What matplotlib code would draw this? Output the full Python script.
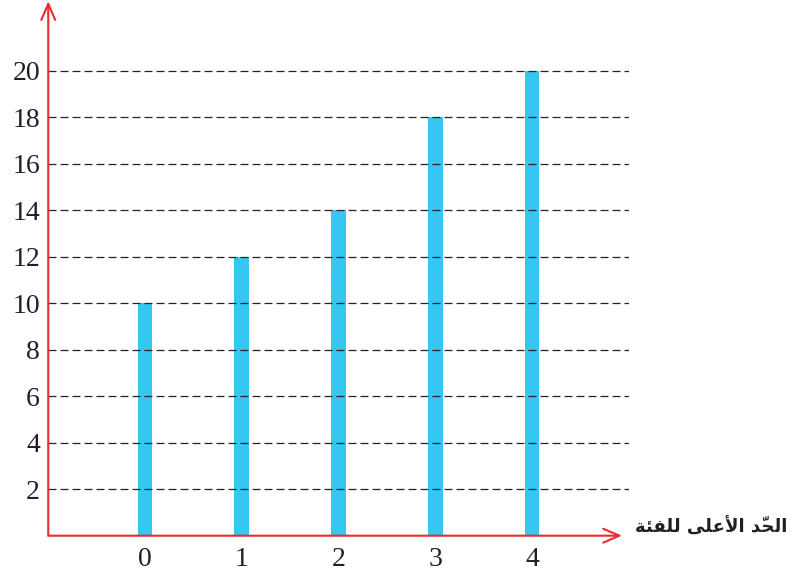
import matplotlib
matplotlib.use("Agg")
import matplotlib.pyplot as plt

# data
categories = [0, 1, 2, 3, 4]
upper_limits = [10, 12, 14, 18, 20]
y_ticks = [2, 4, 6, 8, 10, 12, 14, 16, 18, 20]

# "الحدّ الأعلى للفئة" written in shaped forms, visual order (left to right)
word3 = "\ufe94\ufe8c\ufed4\ufee0\ufedf"          # للفئة
word2 = "\ufef0\ufee0\ufecb\ufef7\ufe8d"          # الأعلى
word1 = "\ufeaa\u0651\ufea4\ufedf\ufe8d"          # الحدّ
x_label = word3 + " " + word2 + " " + word1

red = "#ee2a2e"
blue = "#35c6f1"

fig = plt.figure(figsize=(7.93, 5.72), dpi=100)
ax = fig.add_axes([48.25 / 793, 36.3 / 572, 580.5 / 793, 23 * 23.24 / 572])
ax.set_xlim(-1, 5)
ax.set_ylim(0, 23)

ax.bar(categories, upper_limits, width=0.155, color=blue, zorder=2)
ax.hlines(y_ticks, -1, 5, colors="#222222", linewidth=0.9,
          linestyles=(0, (6.4, 3.2)), zorder=3)

for s in ax.spines.values():
    s.set_visible(False)

# axes drawn as red arrows
ax.annotate("", xy=(4.93, 0), xytext=(-1, 0),
            arrowprops=dict(arrowstyle="->,head_length=0.58,head_width=0.25",
                            color=red, lw=1.5, mutation_scale=20,
                            shrinkA=0, shrinkB=0), zorder=4, annotation_clip=False)
ax.annotate("", xy=(-1, 23), xytext=(-1, 0),
            arrowprops=dict(arrowstyle="->,head_length=0.58,head_width=0.25",
                            color=red, lw=1.5, mutation_scale=20,
                            shrinkA=0, shrinkB=0), zorder=4, annotation_clip=False)

ax.set_xticks(categories)
ax.set_xticklabels([str(c) for c in categories])
ax.set_yticks(y_ticks)
ax.set_yticklabels([str(t) for t in y_ticks])
ax.tick_params(length=0, labelsize=20, colors="#231f20")
ax.tick_params(axis="y", pad=6)
ax.tick_params(axis="x", pad=8)
for lab in ax.get_xticklabels() + ax.get_yticklabels():
    lab.set_fontfamily("Liberation Serif")

ax.text(5.065, 0.37, x_label, ha="left", va="center", fontsize=13,
        fontweight="bold", family="DejaVu Sans", color="#231f20", clip_on=False)

fig.savefig("out.png", dpi=100)
